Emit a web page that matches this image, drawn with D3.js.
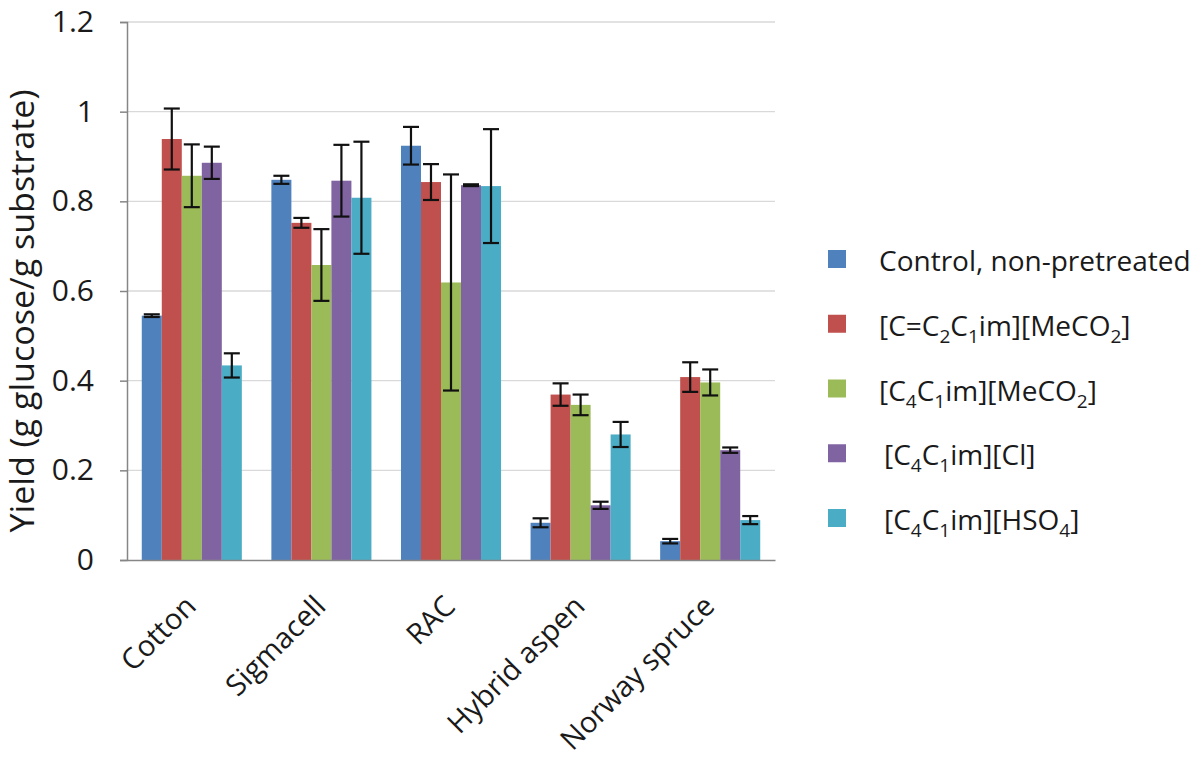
<!DOCTYPE html>
<html>
<head>
<meta charset="utf-8">
<script src="https://cdn.jsdelivr.net/npm/d3@7"></script>
<style>
  html, body { margin: 0; padding: 0; background: #ffffff; }
  svg { display: block; font-family: "Open Sans", "Noto Sans", sans-serif; }
</style>
</head>
<body>
<svg id="chart" width="1200" height="771"></svg>
<script>
// ---- data ----
const categories = ["Cotton", "Sigmacell", "RAC", "Hybrid aspen", "Norway spruce"];
const seriesNames = [
  "Control, non-pretreated",
  "[C=C_2C_1im][MeCO_2]",
  "[C_4C_1im][MeCO_2]",
  "[C_4C_1im][Cl]",
  "[C_4C_1im][HSO_4]"
];
const controlValues = [0.545, 0.848, 0.924, 0.083, 0.042];
const controlErrors = [0.003, 0.009, 0.042, 0.010, 0.005];
const allylAcetateValues = [0.939, 0.752, 0.843, 0.369, 0.408];
const allylAcetateErrors = [0.068, 0.011, 0.040, 0.025, 0.033];
const butylAcetateValues = [0.857, 0.658, 0.619, 0.346, 0.396];
const butylAcetateErrors = [0.070, 0.080, 0.241, 0.023, 0.029];
const butylChlorideValues = [0.886, 0.846, 0.836, 0.122, 0.245];
const butylChlorideErrors = [0.036, 0.080, 0.002, 0.008, 0.006];
const butylHSO4Values = [0.434, 0.808, 0.834, 0.280, 0.089];
const butylHSO4Errors = [0.027, 0.125, 0.127, 0.028, 0.009];
const yTicks = [0, 0.2, 0.4, 0.6, 0.8, 1, 1.2];
const yTickLabels = ["0", "0.2", "0.4", "0.6", "0.8", "1", "1.2"];
const yTitle = "Yield (g glucose/g substrate)";

const seriesValues = [controlValues, allylAcetateValues, butylAcetateValues, butylChlorideValues, butylHSO4Values];
const seriesErrors = [controlErrors, allylAcetateErrors, butylAcetateErrors, butylChlorideErrors, butylHSO4Errors];
const colors = ["#4F81BD", "#C0504D", "#9BBB59", "#8064A2", "#4BACC6"];

// ---- layout ----
const svg = d3.select("#chart");
const plot = { left: 127, right: 775, top: 22, bottom: 560 };

const x = d3.scaleBand().domain(categories).range([plot.left, plot.right])
  .paddingInner(0.228).paddingOuter(0.114);
const xs = d3.scaleBand().domain(d3.range(seriesNames.length)).range([0, x.bandwidth()]).padding(0);
const y = d3.scaleLinear().domain([0, 1.2]).range([plot.bottom, plot.top]);

// gridlines
svg.append("g").selectAll("line").data(yTicks.filter(d => d > 0)).join("line")
  .attr("x1", plot.left).attr("x2", plot.right)
  .attr("y1", d => y(d)).attr("y2", d => y(d))
  .attr("stroke", "#D9D9D9").attr("stroke-width", 1.3);

// bars
const rows = [];
categories.forEach((c, ci) => {
  seriesValues.forEach((vals, si) => {
    rows.push({ cat: c, s: si, v: vals[ci], e: seriesErrors[si][ci] });
  });
});

svg.append("g").selectAll("rect").data(rows).join("rect")
  .attr("x", d => x(d.cat) + xs(d.s))
  .attr("width", xs.bandwidth())
  .attr("y", d => y(d.v))
  .attr("height", d => y(0) - y(d.v))
  .attr("fill", d => colors[d.s]);

// error bars
const eg = svg.append("g").attr("stroke", "#111").attr("stroke-width", 2.2);
const cx = d => x(d.cat) + xs(d.s) + xs.bandwidth() / 2;
eg.selectAll("line.v").data(rows).join("line").attr("class", "v")
  .attr("x1", cx).attr("x2", cx)
  .attr("y1", d => y(d.v + d.e)).attr("y2", d => y(d.v - d.e));
eg.selectAll("line.t").data(rows).join("line").attr("class", "t")
  .attr("x1", d => cx(d) - 8).attr("x2", d => cx(d) + 8)
  .attr("y1", d => y(d.v + d.e)).attr("y2", d => y(d.v + d.e));
eg.selectAll("line.b").data(rows).join("line").attr("class", "b")
  .attr("x1", d => cx(d) - 8).attr("x2", d => cx(d) + 8)
  .attr("y1", d => y(d.v - d.e)).attr("y2", d => y(d.v - d.e));

// y axis
const yAxis = d3.axisLeft(y).tickValues(yTicks)
  .tickFormat((d, i) => yTickLabels[i]).tickSize(7).tickPadding(26);
const yg = svg.append("g").attr("transform", `translate(${plot.left},0)`).call(yAxis);
yg.select(".domain").attr("stroke", "#868686").attr("stroke-width", 1.5);
yg.selectAll(".tick line").attr("stroke", "#868686").attr("stroke-width", 1.5);
yg.selectAll(".tick text").attr("fill", "#1a1a1a").style("font-size", "30px")
  .style("font-family", "'Open Sans', sans-serif");

// x axis
const xAxis = d3.axisBottom(x).tickSize(0).tickFormat(d => d);
const xg = svg.append("g").attr("transform", `translate(0,${plot.bottom})`).call(xAxis);
xg.select(".domain").attr("stroke", "#868686").attr("stroke-width", 1.5);
xg.selectAll(".tick text")
  .attr("fill", "#1a1a1a").style("font-size", "29px")
  .style("font-family", "'Open Sans', sans-serif")
  .attr("text-anchor", "end")
  .attr("x", 0).attr("y", 0).attr("dy", 0)
  .attr("transform", "translate(6,48) rotate(-45)");

// y title
svg.append("text")
  .attr("transform", "translate(34,311) rotate(-90)")
  .attr("text-anchor", "middle")
  .attr("fill", "#1a1a1a")
  .style("font-size", "32px")
  .attr("textLength", 443).attr("lengthAdjust", "spacingAndGlyphs")
  .text(yTitle);

// legend
function parseLabel(s) {
  const parts = [];
  let i = 0, buf = "";
  while (i < s.length) {
    if (s[i] === "_") {
      if (buf) { parts.push({ t: buf, sub: false }); buf = ""; }
      parts.push({ t: s[i + 1], sub: true });
      i += 2;
    } else { buf += s[i]; i++; }
  }
  if (buf) parts.push({ t: buf, sub: false });
  return parts;
}
const legendY = d3.scalePoint().domain(d3.range(seriesNames.length)).range([259, 518]);
const lg = svg.append("g");
seriesNames.forEach((name, i) => {
  const cy = legendY(i);
  lg.append("rect").attr("x", 828).attr("y", cy - 9).attr("width", 18).attr("height", 18)
    .attr("fill", colors[i]);
  const t = lg.append("text").attr("x", i >= 3 ? 884 : 879).attr("y", cy + 12)
    .attr("fill", "#1a1a1a").style("font-size", "28px");
  let shifted = false;
  parseLabel(name).forEach(p => {
    const ts = t.append("tspan").text(p.t);
    if (p.sub && !shifted) { ts.attr("dy", 7).style("font-size", "19px"); shifted = true; }
    else if (p.sub) { ts.style("font-size", "19px"); }
    else if (shifted) { ts.attr("dy", -7); shifted = false; }
  });
});
</script>
</body>
</html>
